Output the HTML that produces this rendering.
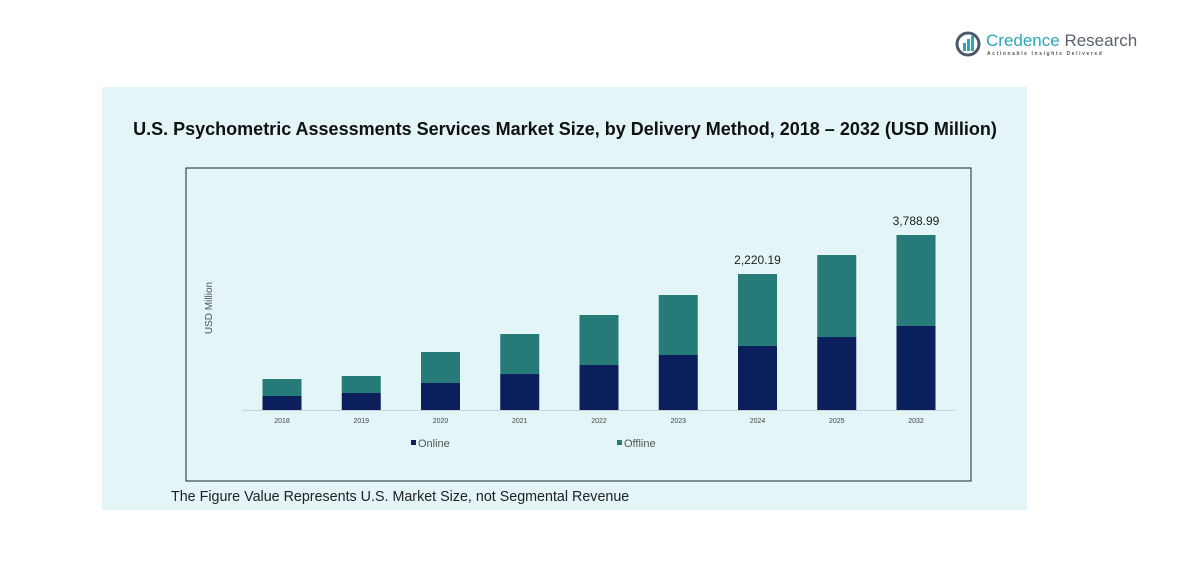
<!DOCTYPE html>
<html><head><meta charset="utf-8"><style>
body{margin:0;width:1177px;height:567px;background:#fff;font-family:"Liberation Sans",sans-serif;position:relative;overflow:hidden}
</style></head><body>
<div style="position:absolute;left:955px;top:30px;width:190px;height:30px">
<svg width="30" height="30" style="position:absolute;left:0;top:0"><circle cx="13" cy="14" r="11" fill="none" stroke="#4a5a6a" stroke-width="3"/><rect x="8" y="13" width="3" height="8" fill="#2aa6b8"/><rect x="12" y="9" width="3" height="12" fill="#2aa6b8"/><rect x="16" y="6" width="3" height="15" fill="#2aa6b8"/></svg>
<div style="position:absolute;left:31px;top:1px;font-size:17px;color:#2aa6b8;white-space:nowrap">Credence <span style="color:#5a6470">Research</span></div>
<div style="position:absolute;left:32px;top:21px;font-size:5px;letter-spacing:1.6px;color:#555;white-space:nowrap;font-weight:bold">Actionable Insights Delivered</div>
</div>
<div style="position:absolute;left:102px;top:87px;width:925px;height:423px;background:#e3f5f6"></div>
<div style="position:absolute;left:102px;top:119px;width:926px;text-align:center;font-size:18px;font-weight:bold;color:#111;white-space:nowrap">U.S. Psychometric Assessments Services Market Size, by Delivery Method, 2018 – 2032 (USD Million)</div>
<div style="position:absolute;left:171px;top:489px;font-size:14.3px;color:#222">The Figure Value Represents U.S. Market Size, not Segmental Revenue</div>
<svg id="chart" width="1177" height="567" style="position:absolute;left:0;top:0"></svg>
<script>
const categories=["2018","2019","2020","2021","2022","2023","2024","2025","2032"];
const online=[303,368,585,779,974,1191,1386,1580,1819];
const offline=[368,368,671,866,1083,1299,1558,1776,1970];
const totalLabels=["","","","","","","2,220.19","","3,788.99"];
const svg=document.getElementById('chart');
const NS='http://www.w3.org/2000/svg';
const baseY=410, maxV=3789, maxH=175, x0=282, step=79.25, bw=39;
const y=v=>baseY-v/maxV*maxH;
const xc=i=>x0+i*step;
function mk(t,a){const e=document.createElementNS(NS,t);for(const k in a)e.setAttribute(k,a[k]);svg.appendChild(e);return e;}
const box=mk('rect',{x:186,y:168,width:785,height:313,fill:'none',stroke:'#222','stroke-width':1});


const ax=mk('line',{x1:242,x2:955,y1:baseY+0.5,y2:baseY+0.5,stroke:'#c8d4d4'});


const yt=mk('text',{x:212,y:308,'font-size':10,fill:'#555','text-anchor':'middle',transform:'rotate(-90 212 308)'});
yt.textContent='USD Million';


categories.forEach((c,i)=>{
 const on=mk('rect',{x:xc(i)-bw/2,y:y(online[i]),width:bw,height:baseY-y(online[i]),fill:'#0b1f5c'});
 
 
 const tot=online[i]+offline[i];
 const of=mk('rect',{x:xc(i)-bw/2,y:y(tot),width:bw,height:y(online[i])-y(tot),fill:'#267a78'});
 
 
 const t=mk('text',{x:xc(i),y:423,'font-size':7,fill:'#444','text-anchor':'middle'});
 t.textContent=c;
 
 
 if(totalLabels[i]){const l=mk('text',{x:xc(i),y:y(tot)-10,'font-size':12,fill:'#222','text-anchor':'middle'});l.textContent=totalLabels[i];
 
 }
});
const l1=mk('rect',{x:411,y:440,width:5,height:5,fill:'#0b1f5c'});


const lt1=mk('text',{x:418,y:447,'font-size':11,fill:'#555'});lt1.textContent='Online';


const l2=mk('rect',{x:617,y:440,width:5,height:5,fill:'#267a78'});


const lt2=mk('text',{x:624,y:447,'font-size':11,fill:'#555'});lt2.textContent='Offline';


</script>
</body></html>
